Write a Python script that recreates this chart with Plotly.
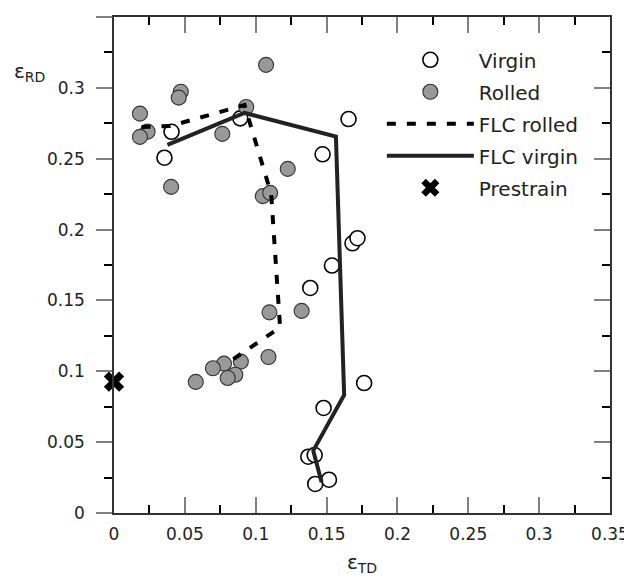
import plotly.graph_objects as go

# Virgin (open circles)
virgin_x = [0.0406, 0.0356, 0.0891, 0.1472, 0.1655, 0.1683, 0.1718, 0.1538,
            0.1385, 0.1765, 0.1479, 0.1371, 0.1416, 0.1420, 0.1517]
virgin_y = [0.2690, 0.2507, 0.2785, 0.2531, 0.2780, 0.1903, 0.1939, 0.1746,
            0.1588, 0.0917, 0.0741, 0.0397, 0.0409, 0.0205, 0.0235]

# Rolled (gray filled)
rolled_x = [0.1073, 0.0471, 0.0457, 0.0183, 0.0237, 0.0183, 0.0933, 0.0764,
            0.0403, 0.1226, 0.1050, 0.1102, 0.1097, 0.1324, 0.1090, 0.0895,
            0.0776, 0.0698, 0.0856, 0.0802, 0.0577]
rolled_y = [0.3162, 0.2973, 0.2931, 0.2818, 0.2691, 0.2654, 0.2865, 0.2675,
            0.2301, 0.2428, 0.2236, 0.2259, 0.1416, 0.1426, 0.1101, 0.1068,
            0.1054, 0.1021, 0.0976, 0.0953, 0.0925]

# FLC curves
flc_rolled_x = [0.0194, 0.0394, 0.0921, 0.1109, 0.1172, 0.0792]
flc_rolled_y = [0.2724, 0.2730, 0.2879, 0.2251, 0.1310, 0.1052]
flc_virgin_x = [0.0377, 0.0921, 0.1566, 0.1624, 0.1406, 0.1465]
flc_virgin_y = [0.2597, 0.2823, 0.2656, 0.0833, 0.0440, 0.0217]

# Prestrain
prestrain_x = [0.0]
prestrain_y = [0.0927]

x_tickvals = [0, 0.05, 0.1, 0.15, 0.2, 0.25, 0.3, 0.35]
x_ticktext = ["0", "0.05", "0.1", "0.15", "0.2", "0.25", "0.3", "0.35"]
y_tickvals = x_tickvals
y_ticktext = x_ticktext

FONT = "DejaVu Sans"
TXT = "#222222"

fig = go.Figure()
fig.add_trace(go.Scatter(x=virgin_x, y=virgin_y, mode="markers", name="Virgin",
                         legendgroup="a",
                         marker=dict(symbol="circle", size=15, color="white",
                                     line=dict(color="black", width=1.6))))
fig.add_trace(go.Scatter(x=rolled_x, y=rolled_y, mode="markers", name="Rolled",
                         legendgroup="b",
                         marker=dict(symbol="circle", size=15, color="#999999",
                                     line=dict(color="#333333", width=1.1))))
fig.add_trace(go.Scatter(x=flc_rolled_x, y=flc_rolled_y, mode="lines", name="FLC rolled",
                         legendgroup="c",
                         line=dict(color="black", width=4, dash="9px,11px")))
fig.add_trace(go.Scatter(x=flc_virgin_x, y=flc_virgin_y, mode="lines", name="FLC virgin",
                         legendgroup="d",
                         line=dict(color="#222222", width=4)))
fig.add_trace(go.Scatter(x=prestrain_x, y=prestrain_y, mode="markers", name="Prestrain",
                         legendgroup="e", cliponaxis=False,
                         marker=dict(symbol="x", size=18, color="black",
                                     line=dict(width=0))))
# invisible trace so the right-hand mirror axis is drawn
fig.add_trace(go.Scatter(x=[0.35], y=[0.35], yaxis="y2", mode="markers",
                         marker=dict(size=1, opacity=0), showlegend=False,
                         hoverinfo="skip"))

axis_common = dict(range=[0, 0.35], showgrid=False, zeroline=False,
                   showline=True, linecolor="#333333", linewidth=1.5,
                   tickcolor="#808080", ticklen=16, tickwidth=1.5,
                   automargin=False,
                   tickfont=dict(family=FONT, size=17, color=TXT))

fig.update_layout(
    width=624, height=575,
    margin=dict(l=106, r=22, t=9, b=70),
    paper_bgcolor="white", plot_bgcolor="white",
    font=dict(family=FONT, color=TXT),
    xaxis=dict(**axis_common, tickvals=x_tickvals, ticktext=x_ticktext,
               ticks="inside", mirror="ticks", ticklabelstandoff=5,
               minor=dict(dtick=0.025, ticks="inside", ticklen=8,
                          tickcolor="black", tickwidth=1.5)),
    yaxis=dict(**axis_common, tickvals=y_tickvals, ticktext=y_ticktext,
               ticks="outside", mirror=False, ticklabelstandoff=8,
               minor=dict(dtick=0.025, ticks="outside", ticklen=8,
                          tickcolor="black", tickwidth=1.5)),
    yaxis2=dict(range=[0, 0.35], overlaying="y", side="right", anchor="x",
                showgrid=False, zeroline=False, showline=True,
                linecolor="#333333", linewidth=1.5, automargin=False,
                tickvals=y_tickvals, ticks="inside", ticklen=16,
                tickcolor="#808080", tickwidth=1.5, showticklabels=False,
                minor=dict(dtick=0.025, ticks="inside", ticklen=8,
                           tickcolor="black", tickwidth=1.5)),
    legend=dict(x=0.54, y=0.953, xanchor="left", yanchor="top",
                bgcolor="rgba(255,255,255,0)", borderwidth=0,
                font=dict(family=FONT, size=20, color=TXT),
                tracegroupgap=3, itemwidth=87),
    showlegend=True,
)

fig.add_annotation(text="ε<sub>RD</sub>", xref="paper", yref="paper",
                   x=-0.2056, y=0.919, xanchor="left", yanchor="top",
                   showarrow=False,
                   font=dict(family=FONT, size=20, color=TXT))
fig.add_annotation(text="ε<sub>TD</sub>", xref="paper", yref="paper",
                   x=0.5, y=-0.131, xanchor="center", yanchor="bottom",
                   showarrow=False,
                   font=dict(family=FONT, size=20, color=TXT))

fig.write_html("out.html")
